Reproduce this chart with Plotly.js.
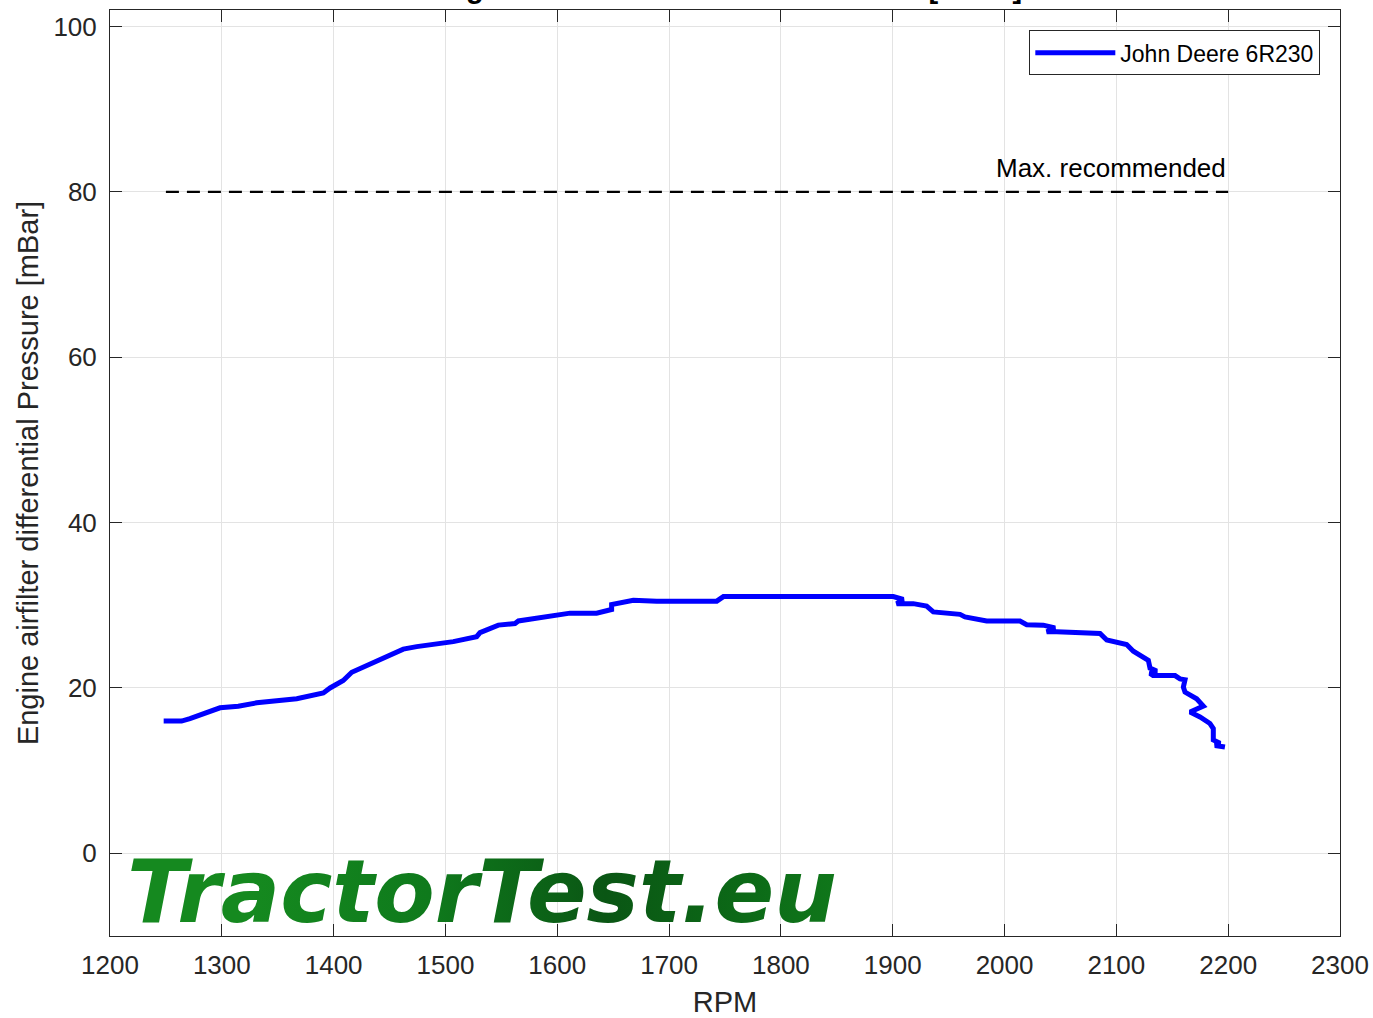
<!DOCTYPE html>
<html>
<head>
<meta charset="utf-8">
<script src="https://cdn.plot.ly/plotly-3.0.1.min.js"></script>
<style>html,body{margin:0;padding:0;background:#fff;}#chart{width:1373px;height:1018px;}</style>
</head>
<body>
<div id="chart"></div>
<script>
// Data
const rpm = [1248,1264,1271.5,1280.5,1292.4,1298.4,1314.7,1322.2,1331.2,1367,1381.8,1390.8,1396.8,1408.6,1416.2,1429.6,1444.4,1462.3,1474.3,1498.1,1507,1527.9,1530.9,1547.3,1562.2,1565.2,1581.6,1593.5,1611.4,1635.2,1648.6,1648.6,1668,1688.9,1742.6,1748.6,1900.5,1909.5,1903.5,1918.4,1930.3,1936.3,1951.2,1960.2,1964.6,1984,2013.8,2019.8,2034.7,2045.1,2037.7,2046.7,2085.4,2091.4,2109.2,2115.2,2128.6,2130.1,2136.1,2130.1,2132.8,2152.5,2156.9,2161.4,2159.9,2161.4,2171.8,2177.8,2165.9,2174.8,2183.7,2186.7,2186.7,2192.7,2188.2,2197.1];
const pressure = [16.0,16.0,16.3,16.7,17.2,17.6,17.8,18.0,18.2,18.7,19.1,19.4,20.0,20.9,21.9,22.7,23.7,24.7,25.0,25.4,25.6,26.2,26.7,27.6,27.8,28.1,28.4,28.7,29.05,29.05,29.5,30.1,30.6,30.5,30.5,31.05,31.05,30.7,30.2,30.2,29.9,29.2,29.05,28.9,28.6,28.1,28.1,27.65,27.6,27.25,26.8,26.8,26.6,25.8,25.25,24.45,23.35,22.4,22.05,21.75,21.5,21.5,21.1,21.0,20.1,19.5,18.7,17.8,17.1,16.5,15.7,15.1,13.7,13.3,13.05,12.85];
const maxRecRpm = [1250, 2200];
const maxRecValue = [80, 80];
const seriesName = 'John Deere 6R230';
const maxRecLabel = 'Max. recommended';
const xTicks = [1200,1300,1400,1500,1600,1700,1800,1900,2000,2100,2200,2300];
const yTicks = [0,20,40,60,80,100];
const titleText = 'Engine airfilter differential Pressure [mBar]';
const xTitle = 'RPM';
const yTitle = 'Engine airfilter differential Pressure [mBar]';
const watermark = 'TractorTest.eu';

const axisColor = '#262626';
const gridColor = '#e3e3e3';
const font = 'Liberation Sans, Arial, Helvetica, sans-serif';

const traces = [
  {x: maxRecRpm, y: maxRecValue, mode: 'lines', showlegend: false, hoverinfo: 'skip',
   line: {color: '#000000', width: 2.2, dash: '13px,8px'}},
  {x: rpm, y: pressure, mode: 'lines', name: seriesName,
   line: {color: '#0000ff', width: 5, shape: 'linear'}}
];

const axisCommon = {
  showline: true, linecolor: axisColor, linewidth: 1, mirror: 'ticks',
  ticks: 'inside', ticklen: 12, tickwidth: 1, tickcolor: axisColor,
  showgrid: true, gridcolor: gridColor, gridwidth: 1, zeroline: false,
  tickfont: {family: font, size: 26, color: axisColor}
};

const layout = {
  width: 1373, height: 1018,
  paper_bgcolor: '#ffffff', plot_bgcolor: '#ffffff',
  margin: {l: 110, r: 33, t: 10, b: 82},
  font: {family: font, color: axisColor},
  xaxis: Object.assign({}, axisCommon, {
    range: [1200, 2300], tickvals: xTicks, ticktext: xTicks.map(String),
    ticklabelstandoff: 6,
    title: {text: xTitle, font: {family: font, size: 29, color: axisColor}, standoff: 12}
  }),
  yaxis: Object.assign({}, axisCommon, {
    range: [-10, 102], tickvals: yTicks, ticktext: yTicks.map(String),
    ticklabelstandoff: 7,
    title: {text: yTitle, font: {family: font, size: 29, color: axisColor}, standoff: 6}
  }),
  showlegend: true,
  legend: {
    x: 0.984, y: 0.978, xanchor: 'right', yanchor: 'top',
    bgcolor: '#ffffff', bordercolor: '#262626', borderwidth: 1,
    font: {family: font, size: 23, color: '#000000'}, itemwidth: 80,
    tracegroupgap: 0
  },
  annotations: [
    {text: maxRecLabel, x: 2200, y: 80, xref: 'x', yref: 'y', xanchor: 'right', yanchor: 'bottom',
     showarrow: false, yshift: 7, font: {family: font, size: 26, color: '#000000'}},
    {text: '<b><i>' + watermark + '</i></b>', x: 1213, y: -4.6, xref: 'x', yref: 'y',
     xanchor: 'left', yanchor: 'middle', showarrow: false,
     font: {family: 'DejaVu Sans, sans-serif', size: 88, color: '#117d1f'}},
    {text: '<b>' + titleText + '</b>', x: 0.5, y: 1.0, xref: 'paper', yref: 'paper',
     xanchor: 'center', yanchor: 'bottom', yshift: 4, showarrow: false,
     font: {family: font, size: 29, color: '#000000'}}
  ]
};

Plotly.newPlot('chart', traces, layout, {displayModeBar: false, staticPlot: true}).then(function (gd) {
  // green gradient fill for the watermark text
  const svg = gd.querySelector('svg.main-svg');
  const ns = 'http://www.w3.org/2000/svg';
  let defs = svg.querySelector('defs');
  if (!defs) { defs = document.createElementNS(ns, 'defs'); svg.insertBefore(defs, svg.firstChild); }
  const grad = document.createElementNS(ns, 'linearGradient');
  grad.setAttribute('id', 'wmgrad');
  grad.setAttribute('gradientUnits', 'userSpaceOnUse');
  grad.setAttribute('x1', '125'); grad.setAttribute('x2', '835');
  grad.setAttribute('y1', '0'); grad.setAttribute('y2', '0');
  [[0, '#15891f'], [0.25, '#0f7a1c'], [0.5, '#0a5614'], [0.7, '#0c6a17'], [1, '#15891f']].forEach(function (s) {
    const st = document.createElementNS(ns, 'stop');
    st.setAttribute('offset', s[0]); st.setAttribute('stop-color', s[1]);
    grad.appendChild(st);
  });
  defs.appendChild(grad);
  gd.querySelectorAll('.annotation-text').forEach(function (t) {
    if (t.textContent === watermark) {
      t.style.fill = 'url(#wmgrad)';
      t.querySelectorAll('tspan').forEach(function (sp) { sp.style.fill = 'url(#wmgrad)'; });
    }
  });
});
</script>
</body>
</html>
